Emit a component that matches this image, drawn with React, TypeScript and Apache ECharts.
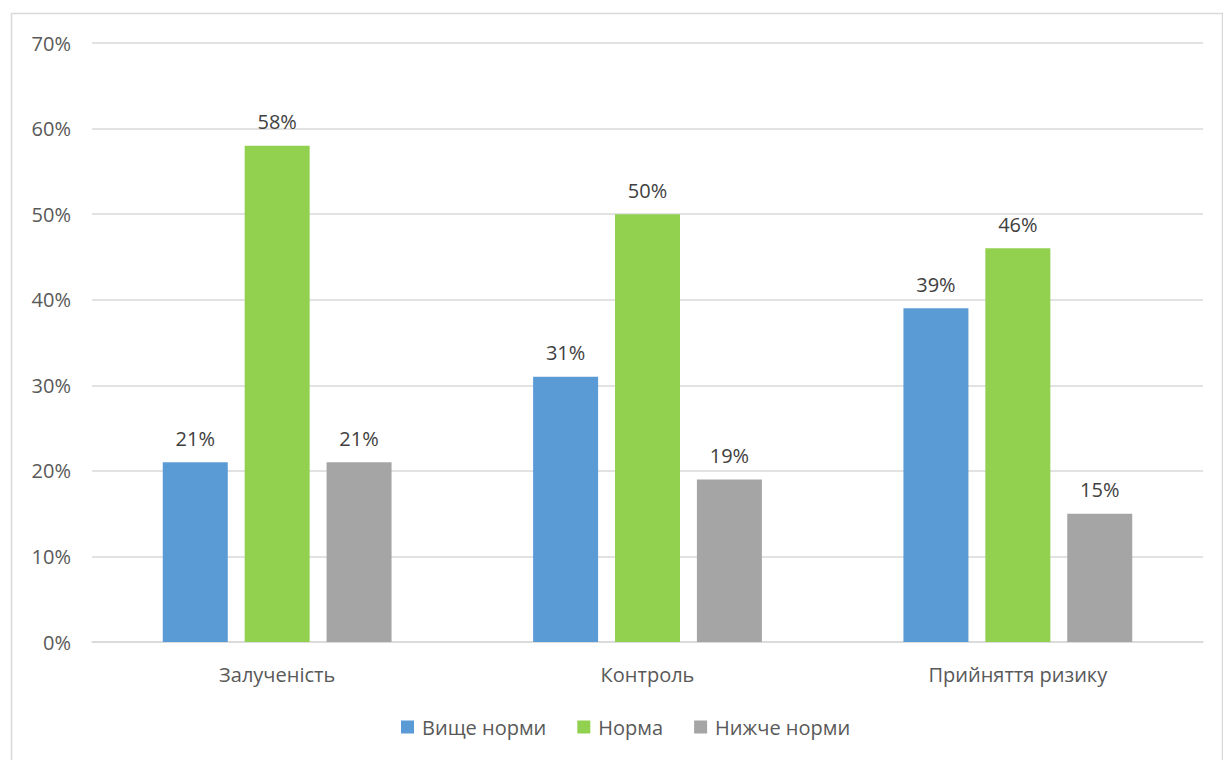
import React, { useEffect, useRef } from "react";
import * as echarts from "echarts";

const categories = ["Залученість", "Контроль", "Прийняття ризику"];
const seriesNames = ["Вище норми", "Норма", "Нижче норми"];
const aboveNorm = [21, 31, 39];
const norm = [58, 50, 46];
const belowNorm = [21, 19, 15];
const colors = ["#5B9BD5", "#92D050", "#A5A5A5"];
const yTicks = [0, 10, 20, 30, 40, 50, 60, 70];

export default function App() {
  const ref = useRef<HTMLDivElement>(null);
  useEffect(() => {
    document.body.style.margin = "0";
    const chart = echarts.init(ref.current!, null, { renderer: "svg" });
    const font = "'Open Sans', sans-serif";
    const values = [aboveNorm, norm, belowNorm];
    chart.setOption({
      animation: false,
      textStyle: { fontFamily: font },
      graphic: [
        {
          type: "rect",
          shape: { x: 11.5, y: 13.5, width: 1211, height: 760 },
          style: { fill: "none", stroke: "#D9D9D9", lineWidth: 1.5 },
          silent: true,
        },
      ],
      grid: { left: 92, right: 20, top: 43, bottom: 118 },
      legend: {
        data: seriesNames,
        bottom: 18,
        left: 396,
        itemWidth: 13,
        itemHeight: 13,
        itemGap: 31,
        icon: "rect",
        textStyle: {
          color: "#595959",
          fontSize: 20,
          fontFamily: font,
          padding: [0, 0, 0, 3],
        },
      },
      xAxis: {
        type: "category",
        data: categories,
        axisLine: { lineStyle: { color: "#D9D9D9", width: 1.5 } },
        axisTick: { show: false },
        axisLabel: { color: "#595959", fontSize: 20, margin: 22, fontFamily: font },
      },
      yAxis: {
        type: "value",
        min: yTicks[0],
        max: yTicks[yTicks.length - 1],
        interval: 10,
        axisLabel: {
          formatter: "{value}%",
          color: "#595959",
          fontSize: 20,
          margin: 21,
          fontFamily: font,
        },
        splitLine: { lineStyle: { color: "#D9D9D9", width: 1.5 } },
        axisLine: { show: false },
        axisTick: { show: false },
      },
      series: seriesNames.map((name, i) => ({
        name,
        type: "bar",
        data: values[i],
        barWidth: 65,
        barGap: "26%",
        itemStyle: { color: colors[i] },
        label: {
          show: true,
          position: "top",
          distance: 14,
          formatter: "{c}%",
          color: "#404040",
          fontSize: 20,
          fontFamily: font,
        },
      })),
    });
    return () => chart.dispose();
  }, []);
  return <div ref={ref} style={{ width: 1223, height: 760 }} />;
}
